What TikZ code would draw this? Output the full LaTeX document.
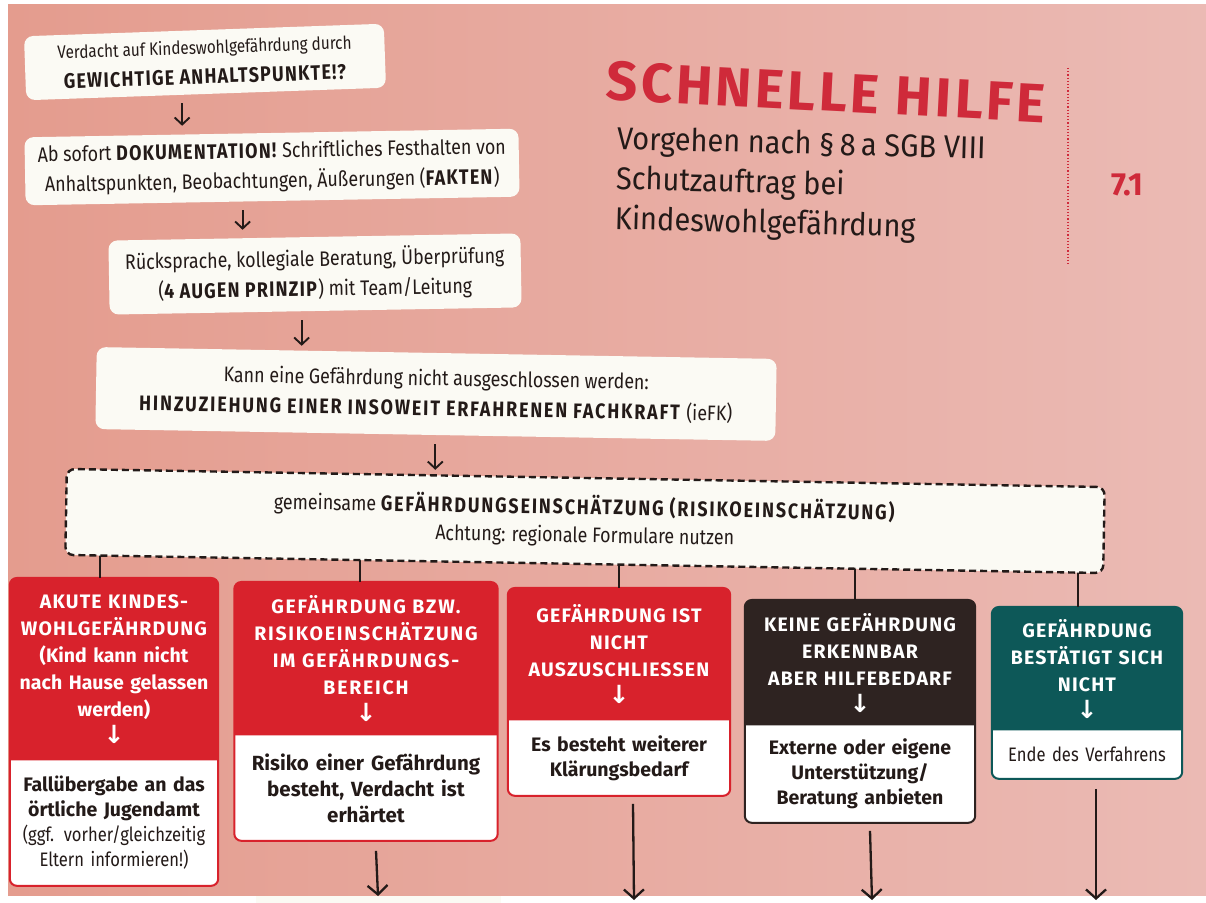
\documentclass[tikz,border=0pt]{standalone}
\usepackage{fontspec}
\setmainfont{Fira Sans}
\newfontfamily\condf[FakeStretch=0.85]{Fira Sans}
\newfontfamily\subf[FakeStretch=0.92]{Fira Sans}
\newfontfamily\cardf{Fira Sans}
\newfontfamily\arrf{DejaVu Sans}
\usetikzlibrary{backgrounds,calc,arrows.meta}
\definecolor{bgL}{HTML}{E49C8E}
\definecolor{bgR}{HTML}{EBBAB4}
\definecolor{cred}{HTML}{D8222C}
\definecolor{cbrown}{HTML}{2E2321}
\definecolor{cteal}{HTML}{0D5858}
\definecolor{tred}{HTML}{CF2A3A}
\definecolor{ink}{HTML}{231A18}
\definecolor{paper}{HTML}{FBFAF4}
\newcommand{\capsx}[1]{{\addfontfeature{LetterSpace=6}#1}}
\newcommand{\capsw}[1]{{\addfontfeature{LetterSpace=9}#1}}
\newcommand{\darr}{{\arrf\bfseries\fontsize{25}{25}\selectfont ↓}}
\tikzset{
  flowbox/.style={fill=paper, rounded corners=9pt, align=center, inner sep=3pt, text=ink,
     font=\condf\fontsize{21}{30}\selectfont},
  dashbox/.style={fill=paper, draw=ink, line width=2.4pt, dash pattern=on 7pt off 4pt,
     rounded corners=8pt, align=center, text=ink, font=\condf\fontsize{21}{28}\selectfont},
  flowarrow/.style={draw=ink, line width=1.9pt, -{Straight Barb[length=7pt,width=15pt,line width=1.9pt]},
     shorten <=9pt, shorten >=7pt},
  longarrow/.style={draw=ink, line width=2.3pt, -{Straight Barb[length=9pt,width=20pt,line width=2.3pt]}},
  branch/.style={draw=ink, line width=1.8pt},
  cardhead/.style={anchor=north, align=center, text=white, inner sep=4pt,
     font=\cardf\bfseries\fontsize{19.5}{27}\selectfont},
  cardbody/.style={anchor=north, align=center, text=ink, inner sep=4pt,
     font=\cardf\bfseries\fontsize{19.5}{25}\selectfont},
}
\newcommand{\cardframe}[3]{%
  \draw[fill=white, draw=#3, line width=2pt, rounded corners=7pt]
     (#1.north west) rectangle (#2.south east);
  \fill[#3] (#1.south west) [rounded corners=7pt] -- (#1.north west) -- (#1.north east)
     [sharp corners] -- (#1.south east) -- cycle;
}
\begin{document}
\begin{tikzpicture}[x=1pt,y=1pt]
\useasboundingbox (0,0) rectangle (1206,902);
\begin{scope}[on background layer]
  \fill[white] (0,0) rectangle (1206,902);
  \shade[left color=bgL, right color=bgR] (8,7) rectangle (1206,897);
\end{scope}

% title block
\node[text=tred, font=\bfseries\fontsize{55}{60}\selectfont, rotate=-3] (title) at (826,810) {\capsx{SCHNELLE HILFE}};
\node[anchor=north west, align=left, text=ink, font=\subf\fontsize{31.5}{40}\selectfont, rotate=-1.5] (sub) at (614,780)
  {Vorgehen nach §\,8\,a SGB VIII\\Schutzauftrag bei\\Kindeswohlgefährdung};
\coordinate (dtop) at (1068,834);
\coordinate (dbot) at (1068,637);
\draw[tred, line width=1.2pt, dotted] (dtop) -- (dbot);
\node[text=tred, font=\bfseries\fontsize{32}{36}\selectfont] (num) at (1127,717) {7.1};

% flow boxes
\node[flowbox, minimum width=360pt, minimum height=64pt, rotate=2] (b1) at (205,840)
  {{\fontsize{18}{21}\selectfont Verdacht auf Kindeswohlgefährdung durch}\\\textbf{\capsx{GEWICHTIGE ANHALTSPUNKTE!?}}};
\node[flowbox, minimum width=494pt, minimum height=68pt, rotate=1] (b2) at (272,735)
  {Ab sofort \textbf{\capsx{DOKUMENTATION!}} Schriftliches Festhalten von\\Anhaltspunkten, Beobachtungen, Äußerungen (\textbf{\capsx{FAKTEN}})};
\node[flowbox, minimum width=412pt, minimum height=74pt, rotate=1] (b3) at (315,628)
  {Rücksprache, kollegiale Beratung, Überprüfung\\(\textbf{\capsx{4 AUGEN PRINZIP}}) mit Team/Leitung};
\node[flowbox, minimum width=680pt, minimum height=82pt, rotate=-1] (b4) at (436,508)
  {Kann eine Gefährdung nicht ausgeschlossen werden:\\\textbf{\capsw{HINZUZIEHUNG EINER INSOWEIT ERFAHRENEN FACHKRAFT}} (ieFK)};
\node[dashbox, minimum width=1038pt, minimum height=86pt, rotate=-1] (gf) at (585,381)
  {gemeinsame \textbf{\capsw{GEFÄHRDUNGSEINSCHÄTZUNG (RISIKOEINSCHÄTZUNG)}}\\Achtung: regionale Formulare nutzen};

\draw[flowarrow] ([xshift=-24pt]b1.south) -- ([xshift=-24pt]b1.south |- b2.north);
\draw[flowarrow] ([xshift=-30pt]b2.south) -- ([xshift=-30pt]b2.south |- b3.north);
\draw[flowarrow] ([xshift=-14pt]b3.south) -- ([xshift=-14pt]b3.south |- b4.north);
\draw[flowarrow] (b4.south) -- (b4.south |- gf.north);

% cards
\node[cardhead, text width=200pt, minimum height=182pt] (h1) at (114,324)
  {\capsx{AKUTE KINDES-}\\\capsx{WOHLGEFÄHRDUNG}\\(Kind kann nicht\\nach Hause gelassen\\werden)\\\darr};
\node[cardbody, text width=200pt, minimum height=125pt] (t1) at (h1.south)
  {Fallübergabe an das\\örtliche Jugendamt\\{\mdseries\condf (ggf. vorher/gleichzeitig\\Eltern informieren!)}};
\node[cardhead, text width=255pt, minimum height=153pt] (h2) at (366,320)
  {\capsw{GEFÄHRDUNG BZW.}\\\capsw{RISIKOEINSCHÄTZUNG}\\\capsw{IM GEFÄHRDUNGS-}\\\capsw{BEREICH}\\\darr};
\node[cardbody, text width=255pt, minimum height=105pt, font=\cardf\bfseries\fontsize{20.5}{26}\selectfont] (t2) at (h2.south)
  {Risiko einer Gefährdung\\besteht, Verdacht ist\\erhärtet};
\node[cardhead, text width=214pt, minimum height=132pt] (h3) at (619,314)
  {\capsx{GEFÄHRDUNG IST}\\\capsx{NICHT}\\\capsx{AUSZUSCHLIESSEN}\\\darr};
\node[cardbody, text width=214pt, minimum height=75pt] (t3) at (h3.south)
  {Es besteht weiterer\\Klärungsbedarf};
\node[cardhead, text width=222pt, minimum height=125pt] (h4) at (860,302)
  {\capsx{KEINE GEFÄHRDUNG}\\\capsx{ERKENNBAR}\\\capsx{ABER HILFEBEDARF}\\\darr};
\node[cardbody, text width=222pt, minimum height=97pt] (t4) at (h4.south)
  {Externe oder eigene\\Unterstützung/\\Beratung anbieten};
\node[cardhead, text width=182pt, minimum height=123pt] (h5) at (1087,295)
  {\capsx{GEFÄHRDUNG}\\\capsx{BESTÄTIGT SICH}\\\capsx{NICHT}\\\darr};
\node[cardbody, text width=182pt, minimum height=48pt, font=\condf\fontsize{19.5}{22}\selectfont] (t5) at (h5.south)
  {Ende des Verfahrens};

\begin{scope}[on background layer]
  \cardframe{h1}{t1}{cred}
  \cardframe{h2}{t2}{cred}
  \cardframe{h3}{t3}{cred}
  \cardframe{h4}{t4}{cbrown}
  \cardframe{h5}{t5}{cteal}
  \draw[branch] ([xshift=-14pt]h1.north) -- ([xshift=-14pt]h1.north |- gf.center);
  \draw[branch] ([xshift=-6pt]h2.north) -- ([xshift=-6pt]h2.north |- gf.center);
  \draw[branch] (h3.north) -- (h3.north |- gf.center);
  \draw[branch] ([xshift=-5pt]h4.north) -- ([xshift=-5pt]h4.north |- gf.center);
  \draw[branch] ([xshift=-9pt]h5.north) -- ([xshift=-9pt]h5.north |- gf.center);
\end{scope}

% partial next box at bottom
\node[fill=paper, minimum width=245pt, minimum height=10pt, anchor=north, inner sep=0pt] (nx) at (378,6) {};

% exit arrows
\coordinate (e3) at (634,2);
\coordinate (e4) at (872,2);
\coordinate (e5) at (1096,2);
\draw[longarrow] ([yshift=-10pt,xshift=10pt]t2.south) -- (nx.north);
\draw[longarrow] ([yshift=-8pt,xshift=14pt]t3.south) -- (e3);
\draw[longarrow] ([yshift=-8pt,xshift=10pt]t4.south) -- (e4);
\draw[longarrow] ([yshift=-10pt,xshift=9pt]t5.south) -- (e5);
\end{tikzpicture}
\end{document}
